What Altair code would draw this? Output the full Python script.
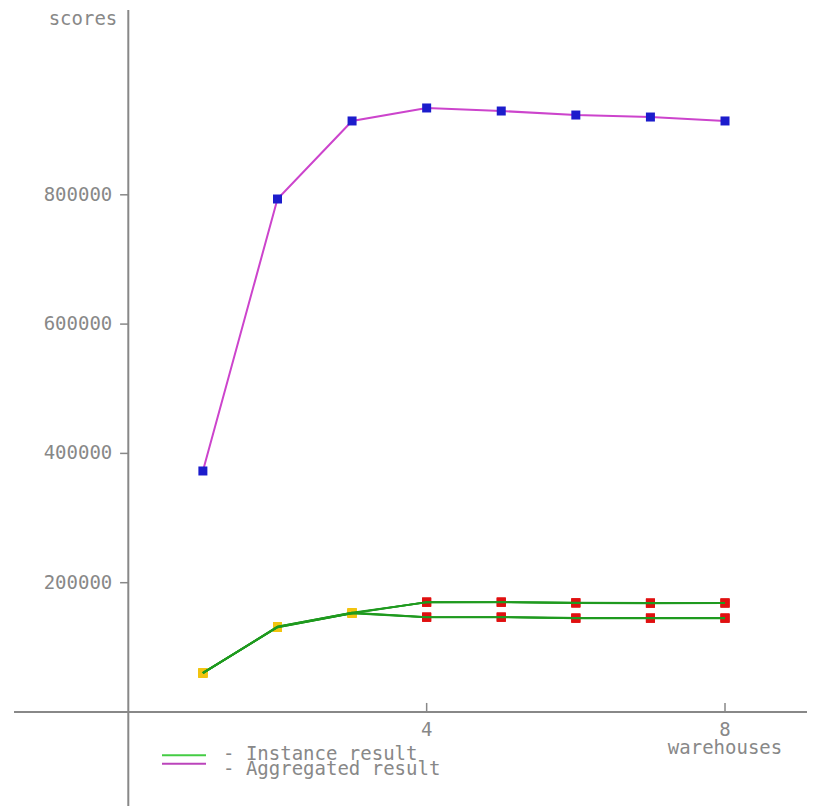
import altair as alt
import pandas as pd

# ---- data ----
warehouses = [1, 2, 3, 4, 5, 6, 7, 8]
aggregated = [372800, 793500, 914200, 934300, 929600, 923400, 920300, 914200]
inst_1 = [60300, 131500, 153100, 170100, 170100, 168600, 168600, 168600]
inst_2 = [60000, 132000, 153800, 169600, 170100, 169100, 168600, 168600]
inst_3 = [60500, 131000, 152600, 170100, 169600, 168600, 168100, 168600]
inst_4 = [60300, 131500, 153100, 146900, 146900, 145400, 145400, 145400]
inst_5 = [60000, 131000, 152600, 146400, 146900, 144900, 145400, 145400]
inst_6 = [60500, 132000, 153600, 146900, 146400, 145400, 144900, 144900]
point_status = ["low", "low", "low", "high", "high", "high", "high", "high"]

y_ticks = [200000, 400000, 600000, 800000]
x_ticks = [4, 8]
x_title = "warehouses"
y_title = "scores"
legend_labels = ["- Instance result", "- Aggregated result"]

# ---- scales (axes cross at the origin) ----
W, H = 799, 798
X_DOMAIN = [-1.6128, 9.0992]
Y_DOMAIN = [-145398, 1088940]
xs = alt.Scale(domain=X_DOMAIN, nice=False, zero=False)
ys = alt.Scale(domain=Y_DOMAIN, nice=False, zero=False)

FONT = "DejaVu Sans Mono"
FS = 19
GRAY = "#888888"


def X(f):
    return alt.X(f, type="quantitative", scale=xs, axis=None)


def Y(f):
    return alt.Y(f, type="quantitative", scale=ys, axis=None)


rows = []
for name, vals in [("1", inst_1), ("2", inst_2), ("3", inst_3),
                   ("4", inst_4), ("5", inst_5), ("6", inst_6)]:
    for w, v, s in zip(warehouses, vals, point_status):
        rows.append({"w": w, "v": v, "inst": name, "status": s})
inst_df = pd.DataFrame(rows)
agg_df = pd.DataFrame({"w": warehouses, "v": aggregated})

# axis frame (axes cross at 0,0)
yaxis_df = pd.DataFrame({"x": [0], "y": [Y_DOMAIN[0]], "y2": [1085800]})
xaxis_df = pd.DataFrame({"y": [0], "x": [-1.532], "x2": [X_DOMAIN[1]]})

y_axis_line = alt.Chart(yaxis_df).mark_rule(color=GRAY, strokeWidth=2).encode(
    x=X("x"), y=Y("y"), y2="y2:Q"
)
x_axis_line = alt.Chart(xaxis_df).mark_rule(color=GRAY, strokeWidth=2).encode(
    y=Y("y"), x=X("x"), x2="x2:Q"
)

ytick_df = pd.DataFrame({"v": y_ticks, "x0": [-0.11] * len(y_ticks), "x1": [0] * len(y_ticks)})
xtick_df = pd.DataFrame({"w": x_ticks, "y0": [0] * len(x_ticks), "y1": [14000] * len(x_ticks)})

y_tick_marks = alt.Chart(ytick_df).mark_rule(color=GRAY, strokeWidth=1.5).encode(
    y=Y("v"), x=X("x0"), x2="x1:Q"
)
y_tick_labels = alt.Chart(ytick_df).mark_text(
    font=FONT, fontSize=FS, color=GRAY, align="right", baseline="middle", dx=-16
).encode(y=Y("v"), x=X("x1"), text=alt.Text("v:Q", format="d"))

x_tick_marks = alt.Chart(xtick_df).mark_rule(color=GRAY, strokeWidth=1.5).encode(
    x=X("w"), y=Y("y0"), y2="y1:Q"
)
x_tick_labels = alt.Chart(xtick_df).mark_text(
    font=FONT, fontSize=FS, color=GRAY, align="center", baseline="middle", dy=18
).encode(x=X("w"), y=Y("y0"), text=alt.Text("w:Q", format="d"))

title_df = pd.DataFrame({"xt": [x_title], "yt": [y_title], "xw": [x_ticks[-1]], "x0": [0], "y0": [0]})
x_title_mark = alt.Chart(title_df).mark_text(
    font=FONT, fontSize=FS, color=GRAY, align="center", baseline="middle", dy=36
).encode(x=X("xw"), y=Y("y0"), text="xt:N")
y_title_mark = alt.Chart(title_df).mark_text(
    font=FONT, fontSize=FS, color=GRAY, align="right", baseline="alphabetic", dx=-11
).encode(x=X("x0"), y=alt.value(17), text="yt:N")

# ---- data marks ----
agg_line = alt.Chart(agg_df).mark_line(color="#cc44cc", strokeWidth=2).encode(x=X("w"), y=Y("v"))
agg_pts = alt.Chart(agg_df).mark_square(size=81, color="#1c1ccc", opacity=1).encode(x=X("w"), y=Y("v"))

inst_pts = alt.Chart(inst_df).mark_square(size=81, opacity=1).encode(
    x=X("w"), y=Y("v"),
    color=alt.Color("status:N", scale=alt.Scale(domain=["low", "high"], range=["#f2c40f", "#e01010"]), legend=None),
)
inst_lines = alt.Chart(inst_df).mark_line(color="#1f9a1f", strokeWidth=1.8).encode(
    x=X("w"), y=Y("v"), detail="inst:N"
)

# ---- legend ----
leg_df = pd.DataFrame({"label": legend_labels, "col": ["#44cc44", "#bb44bb"], "k": [0, 1]})
leg_lines = alt.Chart(leg_df).mark_rule(strokeWidth=2).encode(
    x=alt.value(154), x2=alt.value(198),
    y=alt.Y("k:O", scale=alt.Scale(domain=[0, 1], range=[743, 760], padding=0), axis=None),
    color=alt.Color("col:N", scale=None, legend=None),
)
leg_text = alt.Chart(leg_df).mark_text(
    font=FONT, fontSize=FS, color=GRAY, align="left", baseline="middle"
).encode(
    x=alt.value(215),
    y=alt.Y("k:O", scale=alt.Scale(domain=[0, 1], range=[746, 761], padding=0), axis=None),
    text="label:N",
)

main = alt.layer(
    y_axis_line, x_axis_line, y_tick_marks, y_tick_labels, x_tick_marks, x_tick_labels,
    x_title_mark, y_title_mark,
    agg_line, agg_pts, inst_pts, inst_lines,
)

chart = alt.layer(main, leg_lines, leg_text).resolve_scale(y="independent", color="independent").properties(
    width=W, height=H, padding=0, autosize=alt.AutoSizeParams(type="none"), background="white"
).configure_view(stroke=None)

chart.save("out.html", embed_options={"renderer": "svg", "actions": False})
